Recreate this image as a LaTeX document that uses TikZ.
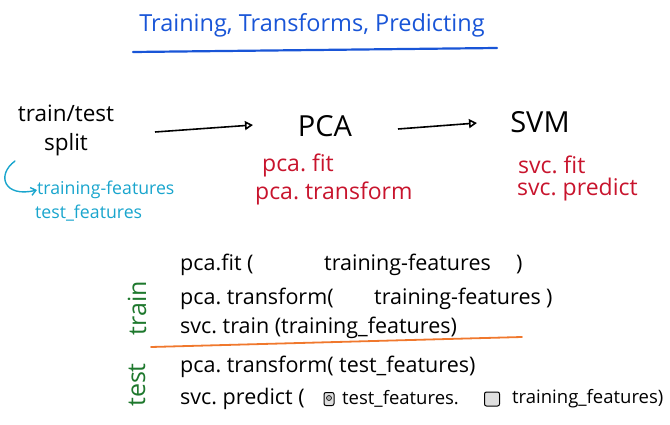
\documentclass[tikz,border=0pt]{standalone}
\usepackage{fontspec}
\setmainfont{Open Sans}
\usetikzlibrary{arrows.meta}
\definecolor{ttlblue}{RGB}{25,85,215}
\definecolor{mred}{RGB}{200,20,45}
\definecolor{mcyan}{RGB}{25,165,205}
\definecolor{mgreen}{RGB}{30,120,45}
\definecolor{morange}{RGB}{240,120,45}
\tikzset{
  txt/.style={inner sep=0pt, anchor=west, font=\fontsize{21.5}{21.5}\selectfont},
  smalltxt/.style={inner sep=0pt, anchor=west, font=\fontsize{18.5}{18.5}\selectfont},
  bigtxt/.style={inner sep=0pt, font=\fontsize{22.5}{22.5}\selectfont},
  redtxt/.style={inner sep=0pt, anchor=west, text=mred, font=\fontsize{23}{23}\selectfont},
  cyantxt/.style={inner sep=0pt, anchor=west, text=mcyan, font=\fontsize{17.7}{17.7}\selectfont},
  sidelbl/.style={inner sep=0pt, rotate=90, text=mgreen, font=\fontsize{25}{25}\selectfont},
  flow/.style={line width=1.6pt, -{Triangle[open,length=8pt,width=9pt]}},
  iconbox/.style={draw=black, line width=1pt, fill=gray!25, rounded corners=2pt, minimum width=10pt, minimum height=13pt, inner sep=0pt}
}
\begin{document}
\begin{tikzpicture}[x=1pt,y=-1pt]
\useasboundingbox (0,0) rectangle (670,425);
% title
\node[inner sep=0pt, text=ttlblue, font=\fontsize{23.5}{23.5}\selectfont] (title) at (312,25) {Training, Transforms, Predicting};
\coordinate (ulA) at (133,52);
\coordinate (ulB) at (497,48);
\draw[ttlblue, line width=2.2pt, line cap=round] (ulA) -- (ulB);
% top flow
\node[bigtxt] (split1) at (66,113) {train/test};
\node[bigtxt] (split2) at (66,145) {split};
\node[inner sep=0pt, font=\fontsize{29}{29}\selectfont] (pca) at (325,126) {PCA};
\node[inner sep=0pt, font=\fontsize{29}{29}\selectfont] (svm) at (540,122) {SVM};
\coordinate (a1s) at (155,132);
\coordinate (a1e) at (253,125);
\draw[flow] (a1s) -- (a1e);
\coordinate (a2s) at (398,129);
\coordinate (a2e) at (477,123);
\draw[flow] (a2s) -- (a2e);
% red methods
\node[redtxt] (pcafit) at (262,165) {pca.\ fit};
\node[redtxt] (pcatr) at (255,193) {pca.\ transform};
\node[redtxt] (svcfit) at (518,165) {svc.\ fit};
\node[redtxt] (svcpred) at (517,190) {svc.\ predict};
% cyan
\node[cyantxt] (trf) at (37,190) {training-features};
\node[cyantxt] (tef) at (35,213) {test\_features};
\coordinate (cs) at (15,161);
\draw[mcyan, line width=1.4pt, line cap=round, -{Straight Barb[length=5pt,width=8pt]}] (cs) .. controls (-4,175) and (4,198) .. (trf.west);
% side labels
\node[sidelbl] (lbltrain) at (137,308) {train};
\node[sidelbl] (lbltest) at (137,385) {test};
% train lines
\node[txt] (l1a) at (180,265) {pca.fit (};
\node[txt] (l1b) at (324,265) {training-features};
\node[txt] (l1c) at (516,265) {)};
\node[txt] (l2a) at (180,299) {pca.\ transform(};
\node[txt] (l2b) at (374,299) {training-features};
\node[txt] (l2c) at (546,299) {)};
\node[txt] (l3) at (180,328) {svc.\ train (training\_features)};
% separator
\coordinate (orA) at (151,347);
\coordinate (orB) at (522,337);
\draw[morange, line width=1.8pt, line cap=round] (orA) -- (orB);
% test lines
\node[txt] (l4) at (180,367) {pca.\ transform( test\_features)};
\node[txt] (l5a) at (180,399) {svc.\ predict (};
\node[iconbox] (ic1) at (329,399) {};
\node[draw=black, fill=gray!60, circle, minimum size=5pt, inner sep=0pt, line width=0.6pt] (ic1dot) at (329,398) {};
\node[smalltxt] (l5b) at (342,399) {test\_features.};
\node[iconbox, minimum width=15pt, minimum height=14pt] (ic2) at (492,399) {};
\node[smalltxt] (l5c) at (512,399) {training\_features)};
\end{tikzpicture}
\end{document}
